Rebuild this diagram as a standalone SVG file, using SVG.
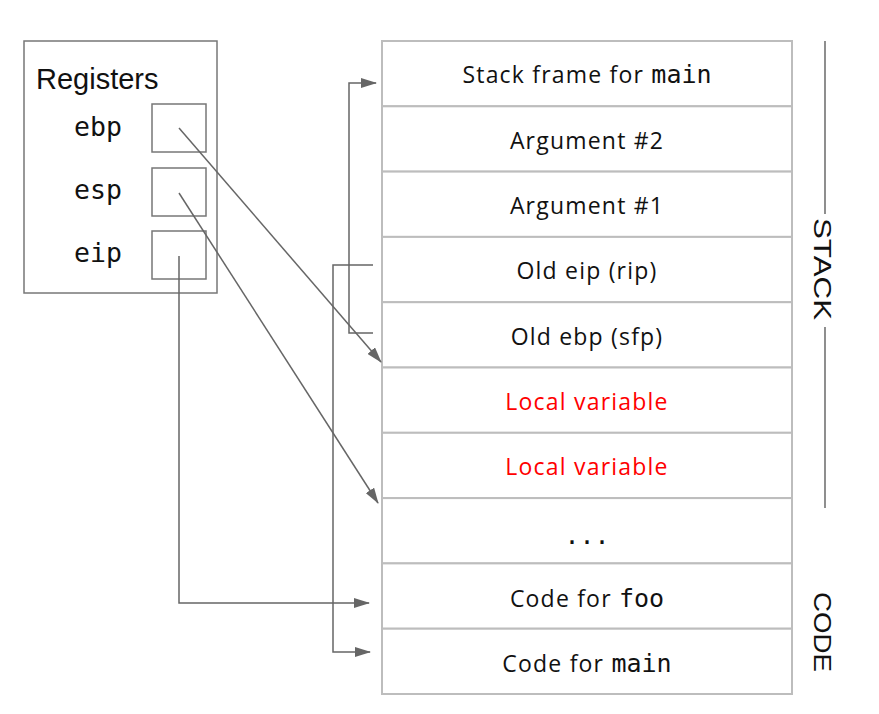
<svg xmlns="http://www.w3.org/2000/svg" width="879" height="714" viewBox="0 0 879 714">
<style>
.reg{fill:#fff;stroke:#777;stroke-width:1.5}
.row{fill:#fff;stroke:#bdbdbd;stroke-width:2}
.lbl{font-family:"Open Sans","Noto Sans",sans-serif;font-size:23px;letter-spacing:1.2px;fill:#111;text-anchor:middle}
.red{fill:#f00}
.mono{font-family:"DejaVu Sans Mono","Liberation Mono",monospace;font-size:25px;letter-spacing:0}
.rn{font-family:"DejaVu Sans Mono","Liberation Mono",monospace;font-size:26.5px;fill:#111}
.side{font-family:"Liberation Sans",Arial,sans-serif;font-size:24px;fill:#111;text-anchor:middle}
.conn{fill:none;stroke:#666;stroke-width:1.5}
</style>
<defs>
<marker id="ah" viewBox="0 0 16 10" refX="15" refY="5" markerWidth="16" markerHeight="10" markerUnits="userSpaceOnUse" orient="auto">
<path d="M0,0 L16,5 L0,10 z" fill="#666"/>
</marker>
</defs>
<rect width="879" height="714" fill="#fff"/>
<g id="registers">
<rect class="reg" x="24" y="41" width="193" height="252"/>
<text x="36" y="89" font-family="Liberation Sans,Arial,sans-serif" font-size="29" fill="#111">Registers</text>
</g>
<g id="reg-ebp">
<text class="rn" x="74" y="136">ebp</text>
<rect class="reg" x="152" y="104" width="54" height="48"/>
</g>
<g id="reg-esp">
<text class="rn" x="74" y="199">esp</text>
<rect class="reg" x="152" y="168" width="54" height="48"/>
</g>
<g id="reg-eip">
<text class="rn" x="74" y="262">eip</text>
<rect class="reg" x="152" y="231" width="54" height="48"/>
</g>
<g id="row-main-frame"><rect class="row" x="382" y="41" width="410" height="65.3"/><text class="lbl" x="587" y="83">Stack frame for <tspan class="mono">main</tspan></text></g>
<g id="row-arg2"><rect class="row" x="382" y="106.3" width="410" height="65.3"/><text class="lbl" x="587" y="149">Argument #2</text></g>
<g id="row-arg1"><rect class="row" x="382" y="171.6" width="410" height="65.3"/><text class="lbl" x="587" y="214">Argument #1</text></g>
<g id="row-old-eip"><rect class="row" x="382" y="236.9" width="410" height="65.3"/><text class="lbl" x="587" y="279">Old eip (rip)</text></g>
<g id="row-old-ebp"><rect class="row" x="382" y="302.2" width="410" height="65.3"/><text class="lbl" x="587" y="345">Old ebp (sfp)</text></g>
<g id="row-local1"><rect class="row" x="382" y="367.5" width="410" height="65.3"/><text class="lbl red" x="587" y="410">Local variable</text></g>
<g id="row-local2"><rect class="row" x="382" y="432.8" width="410" height="65.3"/><text class="lbl red" x="587" y="475">Local variable</text></g>
<g id="row-dots"><rect class="row" x="382" y="498.1" width="410" height="65.3"/><text class="lbl" x="587" y="544"><tspan class="mono">...</tspan></text></g>
<g id="row-code-foo"><rect class="row" x="382" y="563.4" width="410" height="65.3"/><text class="lbl" x="587" y="607">Code for <tspan class="mono">foo</tspan></text></g>
<g id="row-code-main"><rect class="row" x="382" y="628.7" width="410" height="65.3"/><text class="lbl" x="587" y="672">Code for <tspan class="mono">main</tspan></text></g>
<g id="label-stack">
<line x1="825" y1="41" x2="825" y2="214" stroke="#444" stroke-width="1.2"/>
<line x1="825" y1="327" x2="825" y2="508" stroke="#444" stroke-width="1.2"/>
<text class="side" transform="translate(822,269) rotate(90)" y="8.5" textLength="102" lengthAdjust="spacingAndGlyphs">STACK</text>
</g>
<g id="label-code">
<text class="side" transform="translate(822,632) rotate(90)" y="8.5" textLength="80" lengthAdjust="spacingAndGlyphs">CODE</text>
</g>
<g id="connectors">
<line class="conn" x1="179" y1="128" x2="381" y2="362" marker-end="url(#ah)"/>
<line class="conn" x1="179" y1="193" x2="378" y2="503" marker-end="url(#ah)"/>
<polyline class="conn" points="179,256 179,603 369,603" marker-end="url(#ah)"/>
<polyline class="conn" points="373,265 333,265 333,652 370,652" marker-end="url(#ah)"/>
<polyline class="conn" points="373,333 349,333 349,83 376,83" marker-end="url(#ah)"/>
</g>
</svg>
